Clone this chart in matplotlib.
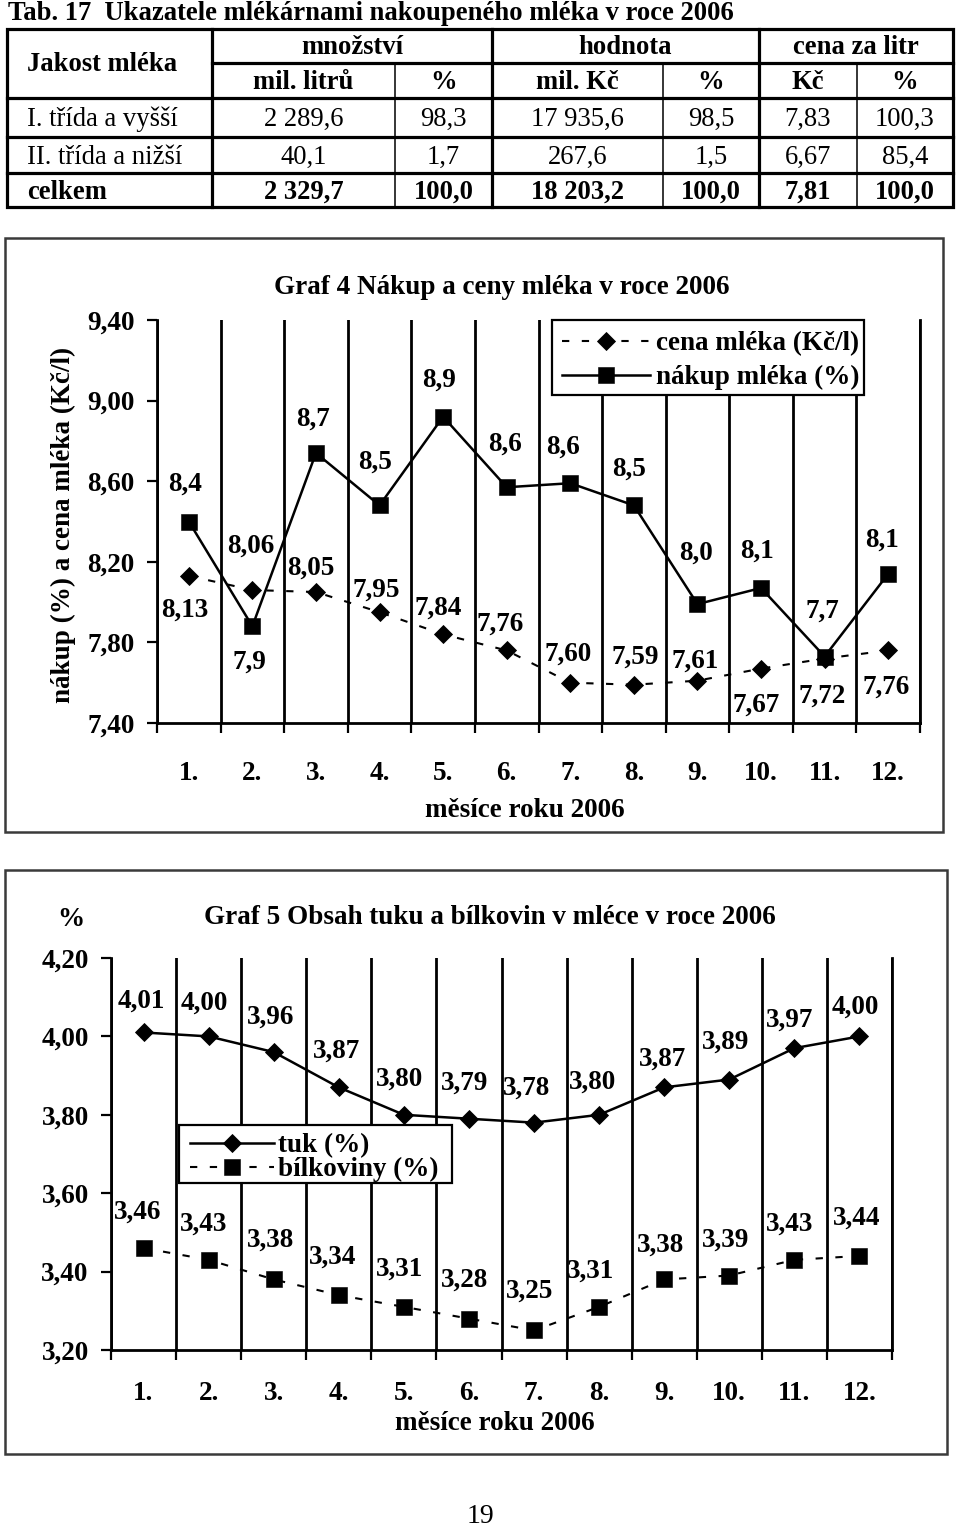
import numpy as np
import matplotlib
matplotlib.use("Agg")
import matplotlib.pyplot as plt
from matplotlib.patches import Rectangle

plt.rcParams['font.family'] = ['Liberation Serif', 'DejaVu Serif']

# ---------------- data ----------------
table_title = "Tab. 17  Ukazatele mlékárnami nakoupeného mléka v roce 2006"
first_header = "Jakost mléka"
group_headers = ["množství", "hodnota", "cena za litr"]
sub_headers = ["mil. litrů", "%", "mil. Kč", "%", "Kč", "%"]
row_names = ["I. třída a vyšší", "II. třída a nižší", "celkem"]
qty_mil_l = [2289.6, 40.1, 2329.7]
qty_pct = [98.3, 1.7, 100.0]
val_mil_kc = [17935.6, 267.6, 18203.2]
val_pct = [98.5, 1.5, 100.0]
price_kc = [7.83, 6.67, 7.81]
price_pct = [100.3, 85.4, 100.0]
table_decimals = [1, 1, 1, 1, 2, 1]

months = ["1.", "2.", "3.", "4.", "5.", "6.", "7.", "8.", "9.", "10.", "11.", "12."]

g4_title = "Graf 4 Nákup a ceny mléka v roce 2006"
g4_ylabel = "nákup (%) a cena mléka (Kč/l)"
g4_xlabel = "měsíce roku 2006"
g4_price_name = "cena mléka (Kč/l)"
g4_purchase_name = "nákup mléka (%)"
g4_price = [8.13, 8.06, 8.05, 7.95, 7.84, 7.76, 7.60, 7.59, 7.61, 7.67, 7.72, 7.76]
g4_purchase = [8.40, 7.88, 8.74, 8.48, 8.92, 8.57, 8.59, 8.48, 7.99, 8.07, 7.73, 8.14]
g4_yticks = [7.40, 7.80, 8.20, 8.60, 9.00, 9.40]

g5_title = "Graf 5 Obsah tuku a bílkovin v mléce v roce 2006"
g5_unit = "%"
g5_xlabel = "měsíce roku 2006"
g5_fat_name = "tuk (%)"
g5_protein_name = "bílkoviny (%)"
g5_fat = [4.01, 4.00, 3.96, 3.87, 3.80, 3.79, 3.78, 3.80, 3.87, 3.89, 3.97, 4.00]
g5_protein = [3.46, 3.43, 3.38, 3.34, 3.31, 3.28, 3.25, 3.31, 3.38, 3.39, 3.43, 3.44]
g5_yticks = [3.20, 3.40, 3.60, 3.80, 4.00, 4.20]

page_number = "19"

# ---------------- layout (pixels) ----------------
W, H = 960, 1531
FS = 19.5          # chart font size
TFS = 19.2         # table font size
LW_AX = 2.0
# label offsets (dx, dy) in pixels from the marker, y downward
g4_price_off = [(-4, 32), (-2, -46), (-5, -26), (-3, -24), (-5, -29), (-7, -29),
                (-2, -31), (1, -30), (-2, -22), (-5, 34), (-2, 35), (-2, 34)]
g4_purch_off = [(-4, -40), (-3, 33), (-3, -36), (-4, -46), (-4, -39), (-2, -46),
                (-7, -38), (-5, -39), (-1, -53), (-4, -39), (-2, -48), (-6, -36)]
g5_fat_off = [(-2, -34), (-4, -36), (-3, -37), (-2, -39), (-4, -38), (-4, -38),
              (-7, -37), (-7, -35), (-2, -31), (-4, -40), (-5, -30), (-4, -32)]
g5_prot_off = [(-6, -38), (-5, -38), (-3, -42), (-6, -40), (-4, -40), (-4, -41),
               (-4, -42), (-9, -38), (-4, -37), (-4, -38), (-5, -38), (-3, -40)]


def fmt(v, d):
    s = f"{v:,.{d}f}"
    return s.replace(",", " ").replace(".", ",")


fig = plt.figure(figsize=(W / 100, H / 100), dpi=100)
fig.patch.set_facecolor("white")


def add_ax(l, t, r, b, z=1):
    return fig.add_axes([l / W, 1 - b / H, (r - l) / W, (b - t) / H], zorder=z)


ov = add_ax(0, 0, W, H, z=10)
ov.set_xlim(0, W)
ov.set_ylim(H, 0)
ov.set_axis_off()
ov.patch.set_visible(False)


def ptxt(x, y, s, size, weight="bold", ha="center", **kw):
    # y = visual centre of the glyphs (digits / capitals)
    ov.text(x, y + 0.33 * size * 100 / 72, s, fontsize=size, fontweight=weight,
            ha=ha, va="baseline", zorder=6, **kw)


# ---------------- table ----------------
tx = [7, 212, 395, 492, 663, 759, 857, 953]
ty = [29, 63, 98, 137, 173, 207]
THICK, THIN = 2.3, 1.1


def seg(x0, y0, x1, y1, lw):
    ov.plot([x0, x1], [y0, y1], color="black", lw=lw, solid_capstyle="projecting")


ov.add_patch(Rectangle((tx[0], ty[0]), tx[-1] - tx[0], ty[-1] - ty[0], fill=False,
                       lw=THICK, ec="black"))
seg(tx[1], ty[1], tx[-1], ty[1], THICK)
for yy in ty[2:5]:
    seg(tx[0], yy, tx[-1], yy, THICK)
for xx in (tx[1], tx[3], tx[5]):
    seg(xx, ty[0], xx, ty[-1], THICK)
for xx in (tx[2], tx[4], tx[6]):
    seg(xx, ty[1], xx, ty[-1], THIN)

ptxt(8, 11, table_title, TFS, ha="left")
ptxt(27, 62, first_header, TFS, ha="left")
for i, g in enumerate(group_headers):
    ptxt((tx[1 + 2 * i] + tx[3 + 2 * i]) / 2, 45, g, TFS)
col_centres = [(tx[i] + tx[i + 1]) / 2 for i in range(1, 7)]
for c, s in zip(col_centres, sub_headers):
    ptxt(c, 80, s, TFS)
row_y = [117, 155, 190]
columns = [qty_mil_l, qty_pct, val_mil_kc, val_pct, price_kc, price_pct]
for r, name in enumerate(row_names):
    w = "bold" if r == 2 else "normal"
    ptxt(27, row_y[r], name, TFS, weight=w, ha="left")
    for c, col, d in zip(col_centres, columns, table_decimals):
        ptxt(c, row_y[r], fmt(col[r], d), TFS, weight=w)


# ---------------- chart helpers ----------------
def setup(ax, yticks, month_pad):
    ax.set_facecolor("none")
    ax.set_xlim(-0.5, len(months) - 0.5)
    ax.set_ylim(yticks[0], yticks[-1])
    ax.spines["top"].set_visible(False)
    for s in ("left", "bottom", "right"):
        ax.spines[s].set_linewidth(LW_AX)
    ax.set_xticks(np.arange(-0.5, len(months)))
    ax.set_xticklabels([])
    ax.set_xticks(np.arange(len(months)), minor=True)
    ax.set_xticklabels(months, minor=True, fontsize=FS, fontweight="bold")
    ax.tick_params(axis="x", which="major", length=7, width=1.6, direction="out")
    ax.tick_params(axis="x", which="minor", length=0, pad=month_pad)
    ax.set_yticks(yticks)
    ax.set_yticklabels([fmt(v, 2) for v in yticks], fontsize=FS, fontweight="bold")
    ax.tick_params(axis="y", length=7, width=1.6, direction="out", pad=9)
    ax.grid(True, axis="x", which="major", color="black", lw=LW_AX)


def labels(ax, values, offs, dec):
    for i, (v, (dx, dy)) in enumerate(zip(values, offs)):
        base = dy + 0.33 * FS * 100 / 72
        ax.annotate(fmt(v, dec), (i, v), xytext=(dx, -base), textcoords="offset pixels",
                    ha="center", va="baseline", fontsize=FS, fontweight="bold",
                    annotation_clip=False, zorder=6)


dash_style = dict(color="black", lw=1.5, ls=(0, (3.5, 6)))
solid_style = dict(color="black", lw=1.8, ls="-")
diamond = dict(marker="D", ms=9.0, mfc="black", mec="black", mew=0.6)
square = dict(marker="s", ms=11, mfc="black", mec="black", mew=0.4)


def legend_row(x0, x1, y, line_kw, mark_kw, text, tx0):
    ov.plot([x0, x1], [y, y], zorder=5, **line_kw)
    ov.plot([(x0 + x1) / 2], [y], ls="none", zorder=5, **mark_kw)
    ptxt(tx0, y, text, FS, ha="left")


# ---------------- Graf 4 ----------------
ov.add_patch(Rectangle((5, 238), 938, 594, fill=False, lw=1.8, ec="#3a3a3a"))
ax1 = add_ax(157, 320, 920, 723)
setup(ax1, g4_yticks, 27)
x = np.arange(len(months))
ax1.plot(x, g4_price, **dash_style, **diamond, zorder=3)
ax1.plot(x, g4_purchase, **solid_style, **square, zorder=4)
labels(ax1, g4_price, g4_price_off, 2)
labels(ax1, g4_purchase, g4_purch_off, 1)
ptxt(502, 285, g4_title, FS)
ptxt(525, 808, g4_xlabel, FS)
ov.text(63, 525, g4_ylabel, fontsize=FS, fontweight="bold", rotation=90,
        ha="center", va="center")
ov.add_patch(Rectangle((552, 320), 312, 75, fc="white", ec="black", lw=1.6, zorder=3))
legend_row(562, 650, 341, dash_style, diamond, g4_price_name, 656)
legend_row(562, 650, 375, solid_style, square, g4_purchase_name, 656)

# ---------------- Graf 5 ----------------
ov.add_patch(Rectangle((5, 870), 942, 584, fill=False, lw=1.8, ec="#3a3a3a"))
ax2 = add_ax(111, 958, 892, 1350)
setup(ax2, g5_yticks, 22)
ax2.plot(x, g5_protein, **dash_style, **square, zorder=3)
ax2.plot(x, g5_fat, **solid_style, **diamond, zorder=4)
labels(ax2, g5_fat, g5_fat_off, 2)
labels(ax2, g5_protein, g5_prot_off, 2)
ptxt(490, 915, g5_title, FS)
ptxt(71, 917, g5_unit, FS)
ptxt(495, 1421, g5_xlabel, FS)
ov.add_patch(Rectangle((179, 1125), 273, 58, fc="white", ec="black", lw=1.6, zorder=3))
legend_row(190, 274, 1143, solid_style, diamond, g5_fat_name, 278)
legend_row(190, 274, 1167, dash_style, square, g5_protein_name, 278)

ptxt(480, 1514, page_number, 20, weight="normal")

fig.savefig("out.png", dpi=100, facecolor="white")
